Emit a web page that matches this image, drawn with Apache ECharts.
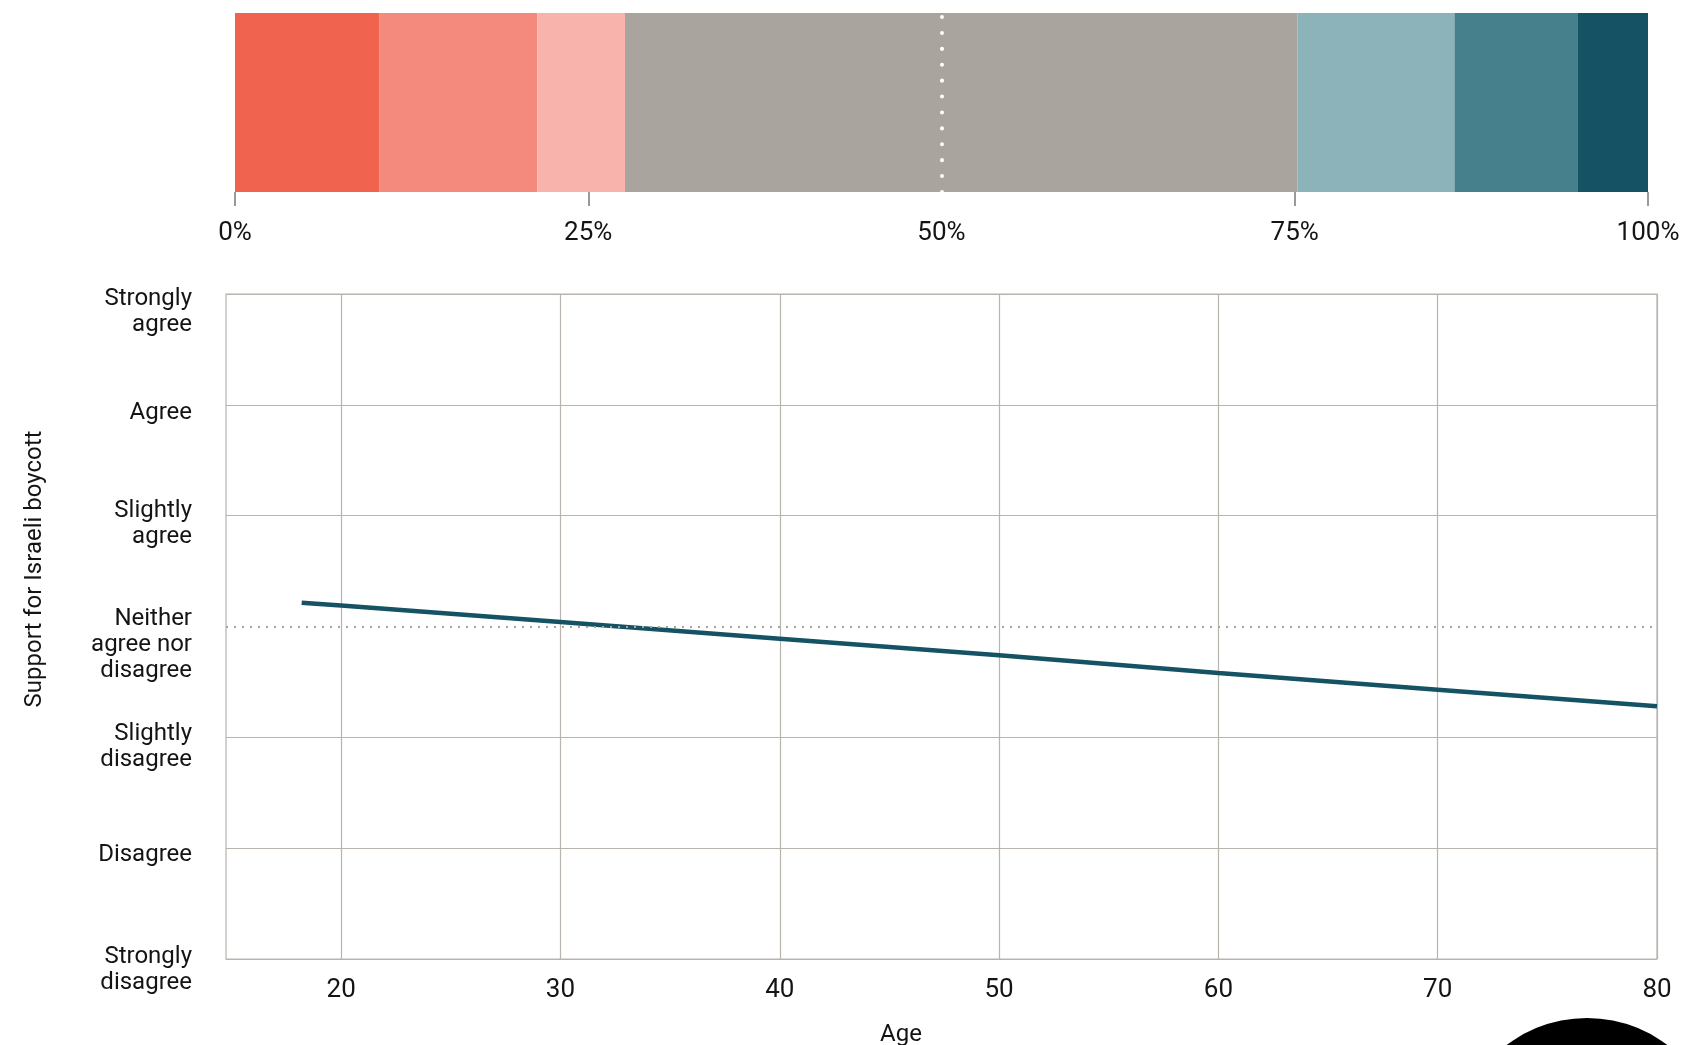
<!DOCTYPE html>
<html>
<head>
<meta charset="utf-8">
<style>
  html, body { margin: 0; padding: 0; background: #ffffff; }
  #chart { width: 1705px; height: 1045px; }
</style>
<script src="https://cdn.jsdelivr.net/npm/echarts@6/dist/echarts.min.js"></script>
</head>
<body>
<div id="chart"></div>
<script>
// ---- Data ----
const responseCategories = ['Strongly disagree', 'Disagree', 'Slightly disagree', 'Neither agree nor disagree', 'Slightly agree', 'Agree', 'Strongly agree'];
const responseShares = [10.2, 11.2, 6.2, 47.6, 11.1, 8.7, 5.0];
const percentTickValues = [0, 25, 75, 100];

const ages = [18.2, 20, 30, 40, 50, 60, 70, 80];
const supportByAge = [4.215, 4.19, 4.04, 3.89, 3.74, 3.58, 3.43, 3.28];
const ageTicks = [20, 30, 40, 50, 60, 70, 80];
const supportLevelLabels = ['Strongly\ndisagree', 'Disagree', 'Slightly\ndisagree', 'Neither\nagree nor\ndisagree', 'Slightly\nagree', 'Agree', 'Strongly\nagree'];

// ---- Styles ----
const responseColors = ['#F0644F', '#F48A7D', '#F8B4AC', '#A9A49E', '#8CB2BA', '#46808D', '#155263'];
const gridColor = '#B9B4AE';
const textColor = '#141414';
const numFont = 'Roboto, "Noto Sans", sans-serif';
// extra vertical room above each y label (label-position styling)
const labelSpacerHeights = [21, 13, 20, 37, 16, 17, 35];

const spacerRich = {};
labelSpacerHeights.forEach((h, i) => {
  spacerRich['g' + i] = { height: h, lineHeight: h, fontSize: 1 };
});

const chart = echarts.init(document.getElementById('chart'), null, { renderer: 'canvas' });

const barSeries = responseCategories.map((name, i) => ({
  name: name,
  type: 'bar',
  stack: 'total',
  xAxisIndex: 0,
  yAxisIndex: 0,
  barWidth: '100%',
  itemStyle: { color: responseColors[i] },
  data: [responseShares[i]],
  silent: true,
  z: 2
}));

// white dotted midline on the bar
barSeries.push({
  type: 'line',
  xAxisIndex: 0,
  yAxisIndex: 0,
  data: [],
  silent: true,
  z: 5,
  markLine: {
    silent: true,
    symbol: ['none', 'none'],
    label: { show: false },
    lineStyle: { color: '#ffffff', width: 4, type: [0.1, 15.8], cap: 'round' },
    data: [{ xAxis: 50 }]
  }
});

const option = {
  animation: false,
  backgroundColor: '#ffffff',
  grid: [
    { left: 235, right: 57, top: 13, height: 179, containLabel: false },
    { left: 226, right: 48, top: 294, bottom: 86, containLabel: false,
      show: true, borderColor: gridColor, borderWidth: 1.2, backgroundColor: 'transparent' }
  ],
  xAxis: [
    {
      gridIndex: 0, type: 'value', min: 0, max: 100, interval: 25,
      axisLine: { show: false },
      axisTick: { show: true, length: 14, customValues: percentTickValues, lineStyle: { color: '#7a7a7a', width: 1.5 } },
      splitLine: { show: false },
      axisLabel: { formatter: '{value}%', margin: 28, color: textColor, fontSize: 26, fontFamily: numFont }
    },
    {
      gridIndex: 1, type: 'value', min: 14.75, max: 80,
      axisLine: { show: false },
      axisTick: { show: false, customValues: ageTicks },
      splitLine: { show: true, lineStyle: { color: gridColor, width: 1.2 } },
      axisLabel: { customValues: ageTicks, margin: 18, color: textColor, fontSize: 26, fontFamily: numFont }
    }
  ],
  yAxis: [
    {
      gridIndex: 0, type: 'category', data: ['All'], show: false
    },
    {
      gridIndex: 1, type: 'value', min: 1, max: 7, interval: 1,
      axisLine: { show: false },
      axisTick: { show: false },
      splitLine: { show: true, lineStyle: { color: [gridColor, gridColor, gridColor, 'rgba(0,0,0,0)', gridColor, gridColor, gridColor], width: 1.2 } },
      axisLabel: {
        margin: 34, color: textColor, fontSize: 24, lineHeight: 26, fontFamily: numFont,
        align: 'right',
        rich: spacerRich,
        formatter: function (v) {
          const i = Math.round(v) - 1;
          const t = supportLevelLabels[i];
          if (t === undefined) return '';
          return '{g' + i + '| }\n' + t;
        }
      }
    }
  ],
  series: barSeries.concat([
    {
      type: 'line',
      xAxisIndex: 1, yAxisIndex: 1,
      data: [],
      silent: true,
      z: 1,
      markLine: {
        silent: true,
        symbol: ['none', 'none'],
        label: { show: false },
        lineStyle: { color: '#A8A39D', width: 2, type: [2, 6] },
        data: [{ yAxis: 4 }]
      }
    },
    {
      name: 'Support by age',
      type: 'line',
      xAxisIndex: 1, yAxisIndex: 1,
      data: ages.map((a, i) => [a, supportByAge[i]]),
      showSymbol: false,
      symbol: 'none',
      lineStyle: { color: '#155263', width: 4.5, cap: 'butt' },
      silent: true,
      z: 4
    }
  ]),
  graphic: [
    {
      type: 'text', silent: true,
      x: 35, y: 569, rotation: Math.PI / 2,
      style: {
        text: 'Support for Israeli boycott', fill: textColor,
        font: '24px Roboto, "Noto Sans", sans-serif',
        textAlign: 'center', textVerticalAlign: 'middle'
      }
    },
    {
      type: 'text', silent: true,
      x: 901, y: 1035,
      style: {
        text: 'Age', fill: textColor,
        font: '24px Roboto, "Noto Sans", sans-serif',
        textAlign: 'center', textVerticalAlign: 'middle'
      }
    },
    {
      type: 'circle', silent: true,
      shape: { cx: 1587, cy: 1151, r: 133 },
      style: { fill: '#000000' }
    }
  ]
};

chart.setOption(option);
</script>
</body>
</html>
